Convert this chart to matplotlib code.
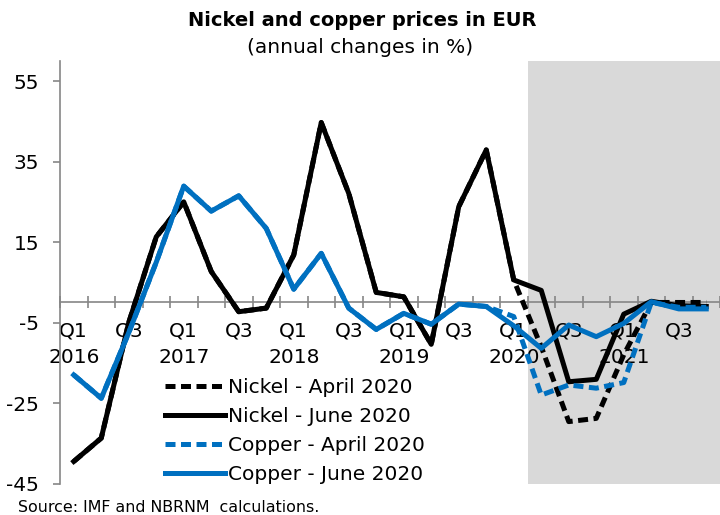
import matplotlib
matplotlib.use("Agg")
from matplotlib import pyplot as plt
import numpy as np

plt.rcParams['font.family'] = ['DejaVu Sans']
plt.rcParams['axes.unicode_minus'] = False

# quarterly labels, Q1 2016 .. Q4 2021
quarter_labels = ["Q1\n2016", "", "Q3", "", "Q1\n2017", "", "Q3", "", "Q1\n2018", "", "Q3", "",
                  "Q1\n2019", "", "Q3", "", "Q1\n2020", "", "Q3", "", "Q1\n2021", "", "Q3", ""]

nickel_april = [-39.5, -33.7, -5.0, 16.3, 25.0, 7.7, -2.3, -1.4, 11.8, 44.7, 27.1, 2.5,
                1.4, -10.4, 23.8, 37.9, 5.6, -11.0, -29.6, -28.8, -13.0, 0.0, 0.0, 0.0]
nickel_june = [-39.5, -33.7, -5.0, 16.3, 25.0, 7.7, -2.3, -1.4, 11.8, 44.7, 27.1, 2.5,
               1.4, -10.4, 23.8, 37.9, 5.6, 3.0, -19.7, -19.1, -2.9, 0.3, -0.8, -1.0]
copper_april = [-18.0, -23.8, -7.5, 10.0, 28.9, 22.7, 26.5, 18.4, 3.3, 12.2, -1.4, -6.7,
                -2.7, -5.4, -0.4, -1.0, -3.5, -23.0, -20.5, -21.3, -19.9, 0.0, -1.2, -1.2]
copper_june = [-18.0, -23.8, -7.5, 10.0, 28.9, 22.7, 26.5, 18.4, 3.3, 12.2, -1.4, -6.7,
               -2.7, -5.4, -0.4, -1.0, -5.8, -11.4, -5.6, -8.5, -5.2, 0.2, -1.6, -1.6]

y_ticks = [-45, -25, -5, 15, 35, 55]

blue = "#0070C0"
grey_axis = "#868686"

fig = plt.figure(figsize=(7.2, 5.15), dpi=100)
ax = fig.add_axes([60 / 720, 0.061, 660 / 720, 0.8206])

x = np.arange(len(nickel_june))
# shaded forecast period
ax.axvspan(16.5, 30, color="#D9D9D9", lw=0, zorder=0)

lw = 3.6
dash = (0, (2.0, 1.1))
ax.plot(x, nickel_april, color="black", lw=lw, ls=dash, label="Nickel - April 2020", zorder=3)
ax.plot(x, nickel_june, color="black", lw=lw, label="Nickel - June 2020", zorder=4)
ax.plot(x, copper_april, color=blue, lw=lw, ls=dash, label="Copper - April 2020", zorder=5)
ax.plot(x, copper_june, color=blue, lw=lw, label="Copper - June 2020", zorder=6)

ax.set_xlim(-0.5, -0.5 + 660 / 27.75)
ax.set_ylim(-45, 60)

for s in ["top", "right"]:
    ax.spines[s].set_visible(False)
ax.spines["left"].set_color(grey_axis)
ax.spines["bottom"].set_position(("data", 0))
ax.spines["bottom"].set_color(grey_axis)
ax.spines["bottom"].set_zorder(2)
ax.spines["left"].set_linewidth(1.2)
ax.spines["bottom"].set_linewidth(1.2)

ax.set_yticks(y_ticks, [str(v) for v in y_ticks])
ax.tick_params(axis="y", direction="out", length=5, width=1.2, color=grey_axis,
               labelsize=14.5, pad=10)

ax.set_xticks(np.arange(-0.5, 24, 1))
ax.set_xticklabels([])
ax.tick_params(axis="x", which="major", direction="inout", length=8, width=1.2, color=grey_axis)
ax.set_xticks(x, quarter_labels, minor=True)
ax.tick_params(axis="x", which="minor", length=0, labelsize=14.5, pad=14)
for t in ax.get_xticklabels(minor=True):
    t.set_linespacing(1.45)

fig.text(0.503, 0.96, "Nickel and copper prices in EUR", ha="center", va="center",
         fontsize=14, fontweight="bold")
fig.text(0.5, 0.908, "(annual changes in %)", ha="center", va="center", fontsize=14.5)
fig.text(18 / 720, 0.014, "Source: IMF and NBRNM  calculations.", ha="left", va="center",
         fontsize=11.4)

leg = fig.legend(loc="center left", bbox_to_anchor=(165 / 720, (515 - 431) / 515),
                 frameon=False, fontsize=14.5, handlelength=3.0, handletextpad=0.15,
                 labelspacing=0.5, borderpad=0, borderaxespad=0)

fig.savefig("out.png", dpi=100)
